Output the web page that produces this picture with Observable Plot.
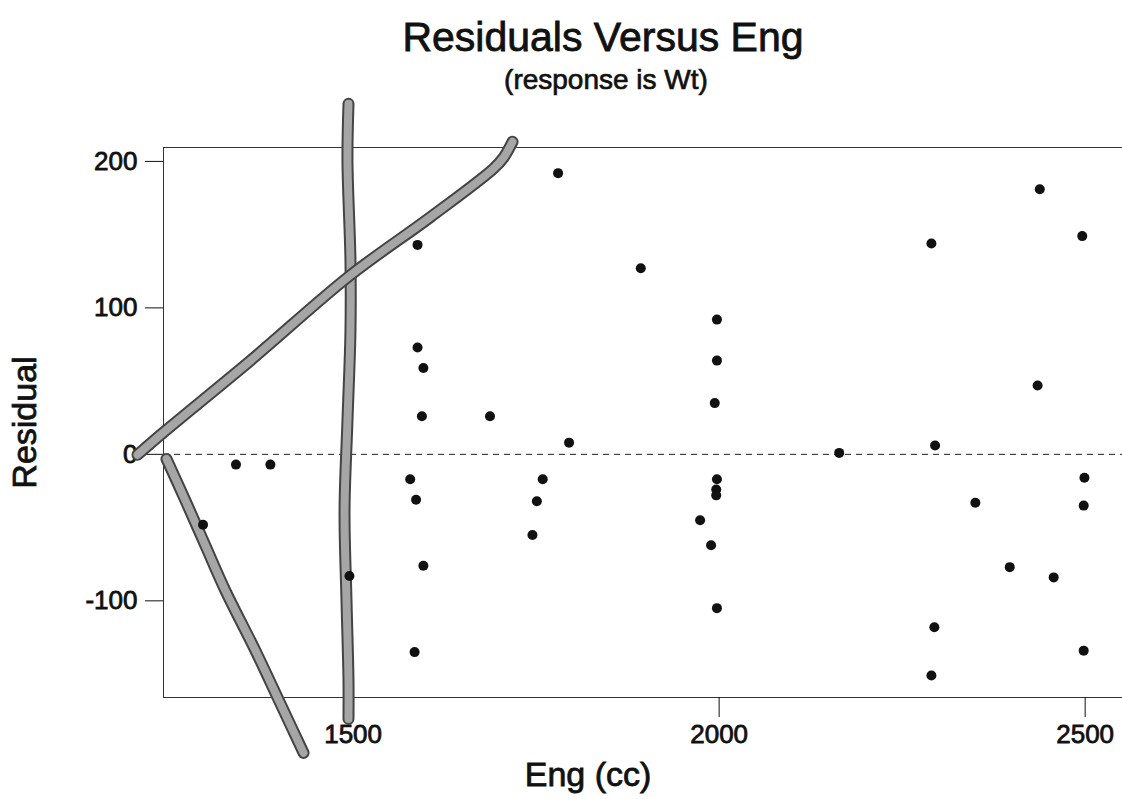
<!DOCTYPE html>
<html>
<head>
<meta charset="utf-8">
<script src="https://cdn.jsdelivr.net/npm/d3@7"></script>
<script src="https://cdn.jsdelivr.net/npm/@observablehq/plot@0.6"></script>
<style>
  html, body { margin: 0; padding: 0; background: #fff; }
  body { width: 1122px; height: 799px; overflow: hidden; font-family: "Liberation Sans", Arial, sans-serif; color: #111; }
  #title { height: 44px; padding-top: 15px; padding-left: 84px; text-align: center; font-size: 41px; line-height: 44px; -webkit-text-stroke: 0.8px #111; }
  #subtitle { height: 30px; margin-top: 6px; padding-bottom: 3px; padding-left: 90px; text-align: center; font-size: 28px; line-height: 30px; -webkit-text-stroke: 0.7px #111; }
  #chart svg { display: block; }
  #chart svg text { stroke: #111; stroke-width: 0.8px; }
</style>
</head>
<body>
<div id="title">Residuals Versus Eng</div>
<div id="subtitle">(response is Wt)</div>
<div id="chart"></div>
<script>
// Observed points: engine size (cc) and residual
const eng = [1588, 1588, 1596, 1594, 1687, 1340, 1387, 1295, 1578, 1586, 1596, 1495, 1584,
             1780, 1893, 1997, 1997, 1994, 1795, 1759, 1751, 1745, 1997, 1996, 1996, 1974, 1989, 1997,
             2438, 2496, 2290, 2435, 2295, 2164, 2499, 2350, 2498, 2397, 2457, 2294, 2498, 2290];
const resid = [143, 73, 59, 26, 26, -7, -7, -48, -17, -31, -76, -83, -135,
               192, 127, 92, 64, 35, 8, -17, -32, -55, -17, -24, -28, -45, -62, -105,
               181, 149, 144, 47, 6, 1, -16, -33, -35, -77, -84, -118, -134, -151];

// Tick values
const xTicks = [1500, 2000, 2500];
const yTicks = [-100, 0, 100, 200];

// Hand-drawn pen strokes on the printout (in data units)
const penVertX = [1493.7, 1492.3, 1496.4, 1496.4, 1492.3, 1488.3, 1491.0, 1493.7, 1493.7];
const penVertY = [239.3, 200.4, 132.1, 84.3, 22.9, -38.6, -100.0, -154.6, -180.6];
const penUpX = [1205.5, 1241.0, 1359.8, 1495.5, 1605.7, 1691.8, 1705.5, 1717.8];
const penUpY = [-0.3, 15.0, 64.0, 122.0, 162.0, 195.1, 202.6, 213.4];
const penDownX = [1245.1, 1271.1, 1298.4, 1325.7, 1366.7, 1400.8, 1432.3];
const penDownY = [-3.1, -31.7, -62.5, -93.2, -134.1, -170.3, -203.8];

const points = eng.map((e, i) => ({eng: e, resid: resid[i]}));
const toPath = (xs, ys) => xs.map((x, i) => ({x, y: ys[i]}));
const pens = [toPath(penVertX, penVertY), toPath(penUpX, penUpY), toPath(penDownX, penDownY)];

const penMarks = [];
for (const p of pens) {
  penMarks.push(Plot.line(p, {x: "x", y: "y", stroke: "#444", strokeWidth: 12, strokeLinecap: "round", strokeLinejoin: "round", curve: "catmull-rom"}));
  penMarks.push(Plot.line(p, {x: "x", y: "y", stroke: "#a6a6a6", strokeWidth: 8, strokeLinecap: "round", strokeLinejoin: "round", curve: "catmull-rom"}));
}

const chart = Plot.plot({
  width: 1122,
  height: 701,
  marginTop: 49,
  marginBottom: 102,
  marginLeft: 163,
  marginRight: 0,
  style: {fontFamily: "'Liberation Sans', Arial, sans-serif", fontSize: "26px", color: "#111", background: "#fff", overflow: "visible"},
  x: {domain: [1241, 2551]},
  y: {domain: [-166, 209.5]},
  marks: [
    Plot.frame({stroke: "#333", strokeWidth: 1}),
    Plot.ruleY([0], {stroke: "#222", strokeWidth: 1, strokeDasharray: "6,5"}),
    Plot.axisX({ticks: xTicks, tickSize: 20, tickPadding: 7, label: null, tickFormat: d => String(d), fontSize: 26}),
    Plot.axisY({ticks: yTicks, tickSize: 18, tickPadding: 8, label: null, tickFormat: d => String(d), fontSize: 26}),
    ...penMarks,
    Plot.dot(points, {x: "eng", y: "resid", r: 5, fill: "#111", stroke: "none"}),
    Plot.text(["Residual"], {text: d => d, frameAnchor: "left", dx: -138, rotate: -90, fontSize: 34, textAnchor: "middle", lineAnchor: "middle"}),
    Plot.text(["Eng (cc)"], {text: d => d, frameAnchor: "bottom", dx: -55, dy: 78, fontSize: 34, textAnchor: "middle", lineAnchor: "middle"})
  ]
});
document.getElementById("chart").appendChild(chart);
</script>
</body>
</html>
